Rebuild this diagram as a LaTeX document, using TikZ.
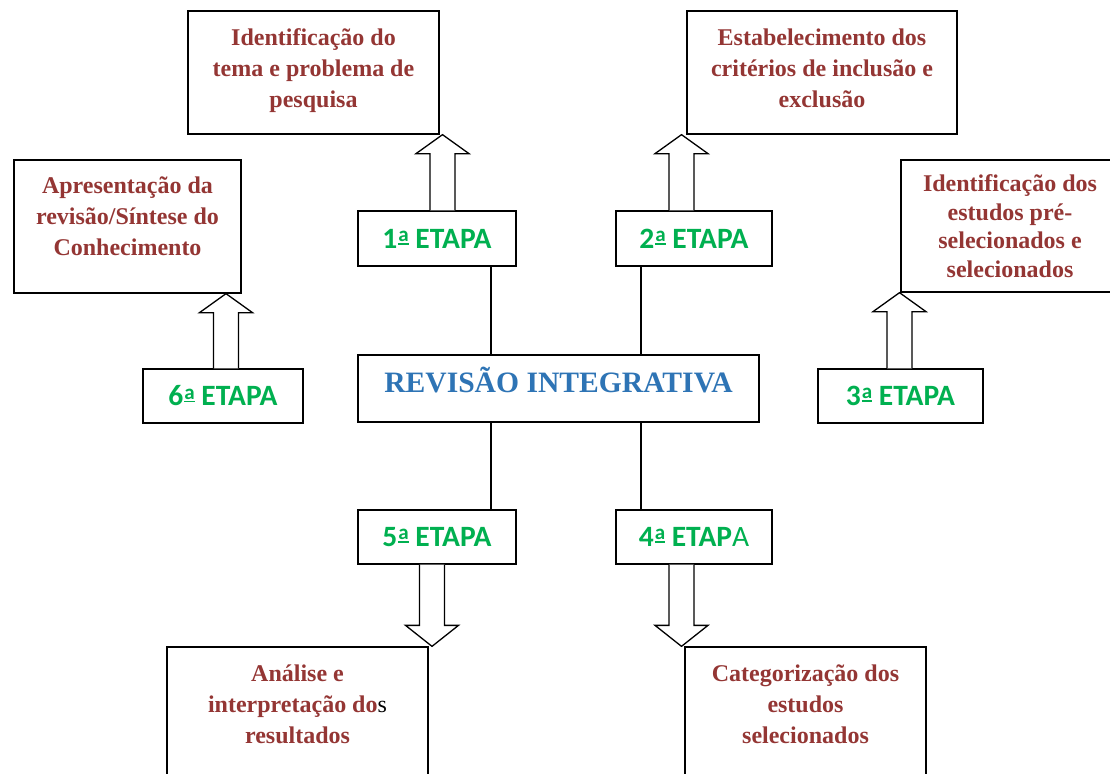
\documentclass[tikz,border=0pt]{standalone}
\usepackage{fontspec}
\setmainfont{Liberation Serif}
\newfontfamily\calfont{Carlito}
\usetikzlibrary{calc}
\definecolor{tred}{HTML}{943634}
\definecolor{tgreen}{HTML}{00B050}
\definecolor{tblue}{HTML}{2E74B5}
\newcommand{\orda}{\kern1pt\raisebox{3.5pt}{\vbox{\hbox{\fontsize{21}{21}\selectfont a}\kern1.4pt\hrule height 1.8pt}}}
\newcommand{\blkup}[2]{\draw[blk] let \p1=(#1), \p2=(#2) in
  (\x1-12.5pt,\y1) -- (\x1-12.5pt,\y2-19pt) -- (\x1-26.5pt,\y2-19pt) -- (\x1,\y2)
  -- (\x1+26.5pt,\y2-19pt) -- (\x1+12.5pt,\y2-19pt) -- (\x1+12.5pt,\y1);}
\newcommand{\blkdown}[2]{\draw[blk] let \p1=(#1), \p2=(#2) in
  (\x1-12.5pt,\y1) -- (\x1-12.5pt,\y2+21pt) -- (\x1-26.5pt,\y2+21pt) -- (\x1,\y2)
  -- (\x1+26.5pt,\y2+21pt) -- (\x1+12.5pt,\y2+21pt) -- (\x1+12.5pt,\y1);}
\begin{document}
\begin{tikzpicture}[x=1pt,y=-1pt,
  box/.style={draw=black, line width=1.3pt, fill=white, inner sep=0pt, align=center,
    text=tred, font=\fontsize{24}{31}\selectfont\bfseries},
  etapa/.style={draw=black, line width=1.3pt, fill=white, inner sep=0pt,
    text=tgreen, font=\calfont\fontsize{29.5}{30}\selectfont\bfseries},
  centre/.style={draw=black, line width=1.3pt, fill=white, inner sep=0pt,
    text height=16pt, text depth=7.8pt,
    text=tblue, font=\fontsize{29.6}{30}\selectfont\bfseries},
  link/.style={line width=1.3pt},
  blk/.style={draw=black, line width=1.3pt, fill=white, line join=miter}]
\useasboundingbox (0,0) rectangle (1110,773);
\fill[white] (0,0) rectangle (1110,773);

% text boxes
\node[box, minimum width=251pt, minimum height=123pt] (t1) at (313.5,72.5)
  {Identificação do\\tema e problema de\\pesquisa\\[-22pt]\mbox{}};
\node[box, minimum width=270pt, minimum height=123pt] (t2) at (822,72.5)
  {Estabelecimento dos\\critérios de inclusão e\\exclusão\\[-22pt]\mbox{}};
\node[box, minimum width=227pt, minimum height=133pt] (b6) at (127.5,226.5)
  {Apresentação da\\revisão/Síntese do\\Conhecimento\\[-10pt]\mbox{}};
\node[box, minimum width=218pt, minimum height=132pt,
  font=\fontsize{24}{28.5}\selectfont\bfseries] (b3) at (1010,226)
  {Identificação dos\\estudos pré-\\selecionados e\\selecionados};
\node[box, minimum width=261pt, minimum height=135pt] (b5) at (297.5,714.5)
  {Análise e\\interpretação do{\color{black}\mdseries s}\\resultados\\[-10pt]\mbox{}};
\node[box, minimum width=241pt, minimum height=135pt] (b4) at (805.5,714.5)
  {Categorização dos\\estudos\\selecionados\\[-10pt]\mbox{}};

% etapa boxes
\node[etapa, minimum width=158pt, minimum height=55pt] (e1) at (437,238.5) {1\orda{} ETAPA};
\node[etapa, minimum width=156pt, minimum height=55pt] (e2) at (694,238.5) {2\orda{} ETAPA};
\node[etapa, minimum width=160pt, minimum height=54pt] (e6) at (223,396) {6\orda{} ETAPA};
\node[etapa, minimum width=165pt, minimum height=54pt] (e3) at (900.5,396) {3\orda{} ETAPA};
\node[etapa, minimum width=158pt, minimum height=54pt] (e5) at (437,537) {5\orda{} ETAPA};
\node[etapa, minimum width=156pt, minimum height=54pt] (e4) at (694,537) {4\orda{} ETAP{\mdseries A}};

% centre
\node[centre, minimum width=401pt, minimum height=67pt] (c) at (558.5,388.5) {REVISÃO INTEGRATIVA};

% connecting lines
\coordinate (l1) at (491,0);
\coordinate (l2) at (641,0);
\draw[link] (e1.south -| l1) -- (c.north -| l1);
\draw[link] (e2.south -| l2) -- (c.north -| l2);
\draw[link] (c.south -| l1) -- (e5.north -| l1);
\draw[link] (c.south -| l2) -- (e4.north -| l2);

% block arrows
\coordinate (a1) at ($(e1.north)+(5.5,0)$);
\coordinate (a1t) at (a1 |- t1.south);
\blkup{a1}{a1t}
\coordinate (a2) at ($(e2.north)+(-12.5,0)$);
\coordinate (a2t) at (a2 |- t2.south);
\blkup{a2}{a2t}
\coordinate (a3) at ($(e3.north)+(-1,0)$);
\coordinate (a3t) at (a3 |- b3.south);
\blkup{a3}{a3t}
\coordinate (a6) at ($(e6.north)+(3,0)$);
\coordinate (a6t) at (a6 |- b6.south);
\blkup{a6}{a6t}
\coordinate (a5) at ($(e5.south)+(-5,0)$);
\coordinate (a5t) at (a5 |- b5.north);
\blkdown{a5}{a5t}
\coordinate (a4) at ($(e4.south)+(-12.5,0)$);
\coordinate (a4t) at (a4 |- b4.north);
\blkdown{a4}{a4t}
\end{tikzpicture}
\end{document}
